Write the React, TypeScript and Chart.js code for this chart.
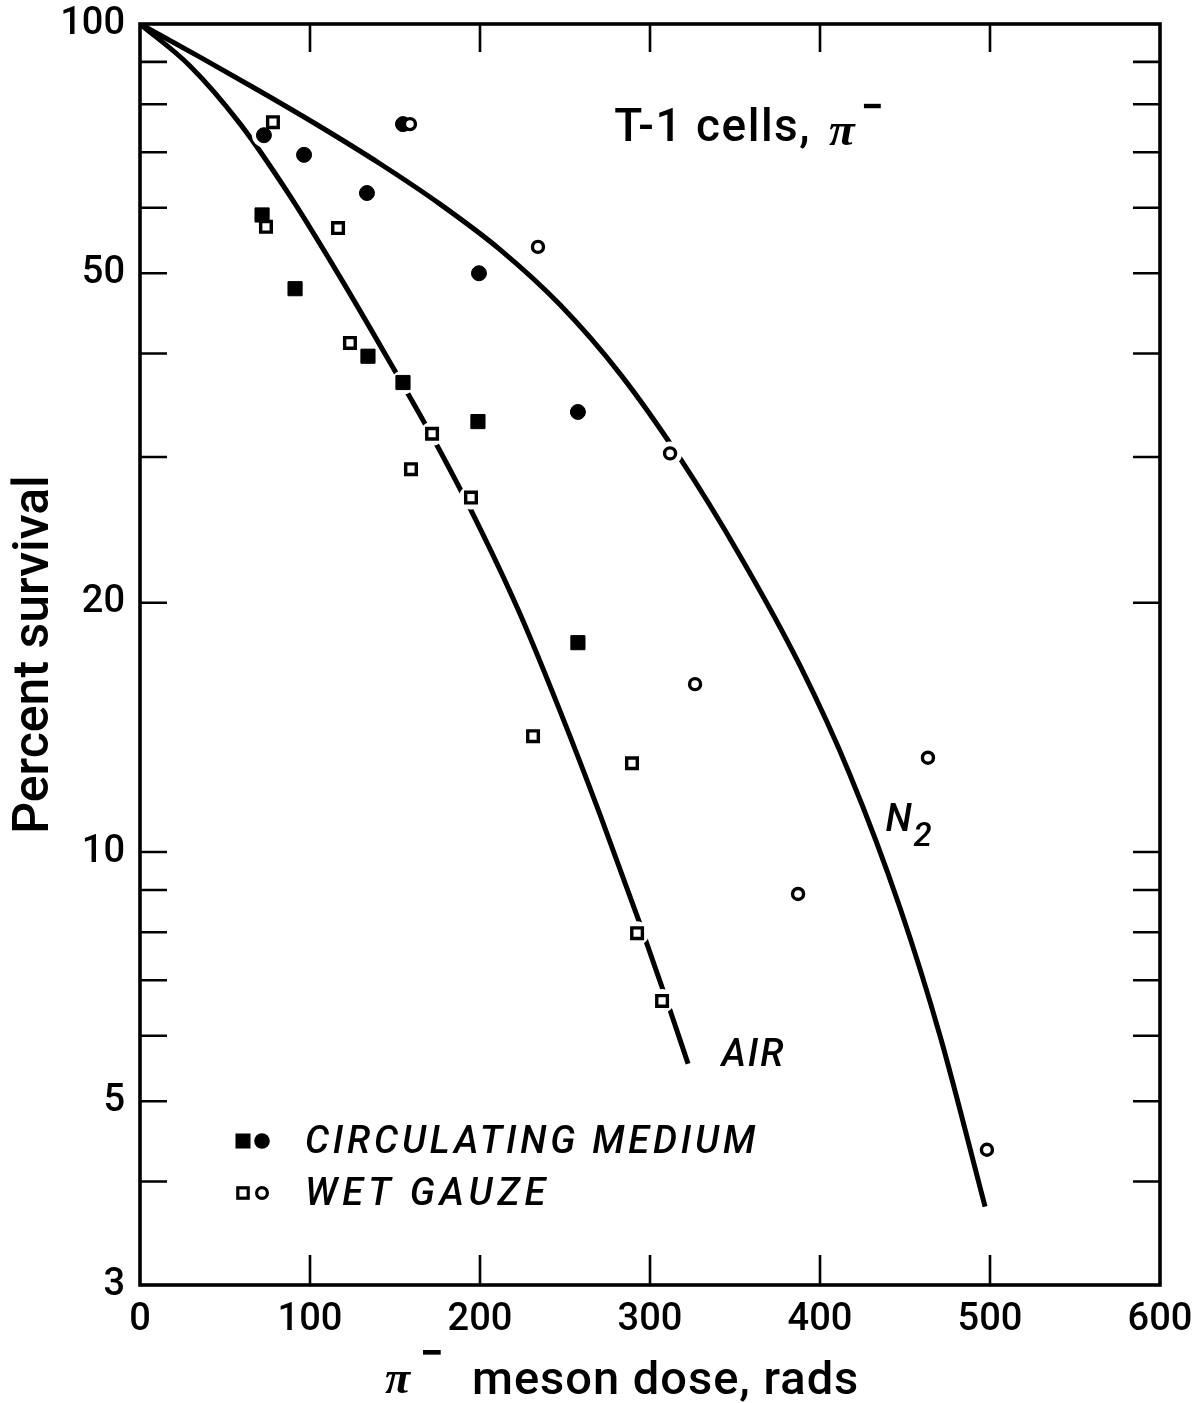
import React, { useEffect, useRef } from "react";
import { Chart, registerables } from "chart.js";

Chart.register(...registerables);

// ---- axes ----
const X_MIN = 0;
const X_MAX = 600;
const X_TICKS = [0, 100, 200, 300, 400, 500, 600];
const Y_MIN = 3;
const Y_MAX = 100;
const Y_LABEL_TICKS = [3, 5, 10, 20, 50, 100];
const Y_MINOR_TICKS = [4, 6, 7, 8, 9, 30, 40, 60, 70, 80, 90];

// ---- measured points (dose in rads, percent survival) ----
// circulating medium, N2 (filled circles)
const CIRC_N2_DOSE = [72.9, 96.5, 133.5, 154.7, 199.4, 257.6];
const CIRC_N2_SURV = [73.4, 69.5, 62.5, 75.7, 50.0, 34.0];
// wet gauze, N2 (open circles)
const GAUZE_N2_DOSE = [158.8, 234.1, 311.8, 326.5, 387.1, 463.5, 498.2];
const GAUZE_N2_SURV = [75.7, 53.8, 30.3, 15.95, 8.9, 13.0, 4.37];
// circulating medium, air (filled squares)
const CIRC_AIR_DOSE = [71.8, 91.2, 134.1, 154.7, 198.8, 257.6];
const CIRC_AIR_SURV = [58.8, 47.9, 39.7, 36.9, 33.1, 17.9];
// wet gauze, air (open squares)
const GAUZE_AIR_DOSE = [78.2, 74.1, 116.5, 123.5, 171.8, 159.4, 194.7, 231.2, 289.4, 292.4, 307.1];
const GAUZE_AIR_SURV = [76.1, 56.9, 56.7, 41.2, 32.0, 29.0, 26.8, 13.8, 12.8, 7.98, 6.61];

// ---- drawn survival curves ----
const AIR_CURVE_DOSE = [0, 29.4, 58.8, 88.2, 117.6, 147.1, 176.5, 200, 223.5, 247.1, 270.6, 294.1, 311.8, 322.4];
const AIR_CURVE_SURV = [100, 89.0, 75.8, 62.0, 49.5, 39.0, 30.5, 24.6, 19.4, 14.8, 11.1, 8.19, 6.44, 5.55];
const N2_CURVE_DOSE = [0, 35.3, 70.6, 105.9, 141.2, 176.5, 211.8, 247.1, 282.4, 317.6, 352.9, 388.2, 417.6, 447.1, 470.6, 497.1];
const N2_CURVE_SURV = [100, 91.2, 82.95, 75.2, 67.8, 60.6, 53.4, 45.8, 37.8, 29.9, 22.8, 16.8, 12.4, 8.56, 6.0, 3.73];

// ---- texts ----
const Y_TITLE = "Percent survival";
const X_TITLE_REST = "meson dose, rads";
const PI = "\u03c0";
const MINUS = "\u2212";
const PANEL_TITLE = "T-1 cells,";
const LEGEND_ROWS = ["CIRCULATING MEDIUM", "WET GAUZE"];
const AIR_LABEL = "AIR";
const N2_LABEL = "N";
const N2_SUB = "2";

// label anchors in data units (dose, survival)
const PANEL_TITLE_AT = [279, 74.5];
const AIR_LABEL_AT = [342, 5.66];
const N2_LABEL_AT = [438.5, 10.9];

const INK = "#000";
const SANS = "Roboto, 'Liberation Sans', Arial, sans-serif";
const SERIF = "'Liberation Serif', 'Times New Roman', serif";

const zip = (xs: number[], ys: number[]) => xs.map((x, i) => ({ x, y: ys[i] }));

const noPad = (s: any) => {
  s.paddingTop = 0;
  s.paddingBottom = 0;
  s.paddingLeft = 0;
  s.paddingRight = 0;
};

const decor = {
  id: "decor",
  afterDraw(chart: any) {
    const { ctx, chartArea: a, scales } = chart;
    const xs = scales.x;
    const ys = scales.y;
    ctx.save();
    ctx.strokeStyle = INK;
    ctx.fillStyle = INK;

    // inward tick marks on all four sides
    ctx.lineWidth = 2.6;
    ctx.beginPath();
    for (const v of [...Y_LABEL_TICKS, ...Y_MINOR_TICKS]) {
      if (v <= Y_MIN || v >= Y_MAX) continue;
      const py = ys.getPixelForValue(v);
      ctx.moveTo(a.left, py);
      ctx.lineTo(a.left + 27, py);
      ctx.moveTo(a.right, py);
      ctx.lineTo(a.right - 27, py);
    }
    for (const v of X_TICKS) {
      if (v <= X_MIN || v >= X_MAX) continue;
      const px = xs.getPixelForValue(v);
      ctx.moveTo(px, a.bottom);
      ctx.lineTo(px, a.bottom - 30);
      ctx.moveTo(px, a.top);
      ctx.lineTo(px, a.top + 28);
    }
    ctx.stroke();

    // frame
    ctx.lineWidth = 3.6;
    ctx.strokeRect(a.left, a.top, a.right - a.left, a.bottom - a.top);

    // x-axis title
    const baseY = a.bottom + 109;
    const piX = a.left + 245;
    ctx.textAlign = "left";
    ctx.textBaseline = "alphabetic";
    ctx.font = `italic bold 46px ${SERIF}`;
    ctx.fillText(PI, piX, baseY - 1);
    ctx.font = `bold 42px ${SANS}`;
    ctx.fillText(MINUS, piX + 35, baseY - 27);
    ctx.font = `500 47px ${SANS}`;
    (ctx as any).letterSpacing = "1px";
    ctx.fillText(X_TITLE_REST, a.left + 332, baseY);
    (ctx as any).letterSpacing = "0px";

    // panel title
    const tx = xs.getPixelForValue(PANEL_TITLE_AT[0]);
    const ty = ys.getPixelForValue(PANEL_TITLE_AT[1]);
    ctx.textBaseline = "middle";
    ctx.font = `500 46px ${SANS}`;
    (ctx as any).letterSpacing = "1.5px";
    ctx.fillText(PANEL_TITLE, tx, ty);
    const w = ctx.measureText(PANEL_TITLE).width;
    (ctx as any).letterSpacing = "0px";
    ctx.font = `italic bold 47px ${SERIF}`;
    ctx.fillText(PI, tx + w + 18, ty + 3);
    ctx.font = `bold 40px ${SANS}`;
    ctx.fillText(MINUS, tx + w + 50, ty - 20);

    // curve labels
    ctx.font = `italic 500 38px ${SANS}`;
    (ctx as any).letterSpacing = "2px";
    ctx.fillText(AIR_LABEL, xs.getPixelForValue(AIR_LABEL_AT[0]), ys.getPixelForValue(AIR_LABEL_AT[1]));
    const nx = xs.getPixelForValue(N2_LABEL_AT[0]);
    const ny = ys.getPixelForValue(N2_LABEL_AT[1]);
    ctx.fillText(N2_LABEL, nx, ny);
    const nw = ctx.measureText(N2_LABEL).width;
    ctx.font = `italic 500 33px ${SANS}`;
    ctx.fillText(N2_SUB, nx + nw, ny + 17);

    // legend
    const rowY = [a.bottom - 144, a.bottom - 92];
    const sqX = a.left + 103;
    const ciX = a.left + 122;
    ctx.fillRect(sqX - 7.5, rowY[0] - 7.5, 15, 15);
    ctx.beginPath();
    ctx.arc(ciX, rowY[0], 7.8, 0, Math.PI * 2);
    ctx.fill();
    ctx.lineWidth = 3.2;
    ctx.strokeRect(sqX - 5.2, rowY[1] - 5.2, 10.4, 10.4);
    ctx.beginPath();
    ctx.arc(ciX, rowY[1], 5.4, 0, Math.PI * 2);
    ctx.stroke();
    ctx.font = `italic 500 38px ${SANS}`;
    (ctx as any).letterSpacing = "3.8px";
    ctx.textBaseline = "middle";
    ctx.fillText(LEGEND_ROWS[0], a.left + 165, rowY[0] + 2);
    (ctx as any).letterSpacing = "4.8px";
    ctx.fillText(LEGEND_ROWS[1], a.left + 165, rowY[1] + 2);
    (ctx as any).letterSpacing = "0px";
    ctx.restore();
  },
};

export default function App() {
  const ref = useRef<HTMLCanvasElement>(null);

  useEffect(() => {
    const circN2 = zip(CIRC_N2_DOSE, CIRC_N2_SURV);
    const gauzeN2 = zip(GAUZE_N2_DOSE, GAUZE_N2_SURV);
    const circAir = zip(CIRC_AIR_DOSE, CIRC_AIR_SURV);
    const gauzeAir = zip(GAUZE_AIR_DOSE, GAUZE_AIR_SURV);
    const allPoints = [...circN2, ...gauzeN2, ...circAir, ...gauzeAir];

    const curve = (data: any[], label: string) => ({
      label,
      data,
      showLine: true,
      borderColor: INK,
      borderWidth: 5,
      pointRadius: 0,
      fill: false,
      cubicInterpolationMode: "monotone" as const,
      borderCapStyle: "butt" as const,
      order: 10,
    });

    const chart = new Chart(ref.current as HTMLCanvasElement, {
      type: "scatter",
      data: {
        datasets: [
          curve(zip(AIR_CURVE_DOSE, AIR_CURVE_SURV), "Air"),
          curve(zip(N2_CURVE_DOSE, N2_CURVE_SURV), "N2"),
          {
            label: "halo",
            data: allPoints,
            pointStyle: "circle",
            pointRadius: 12,
            backgroundColor: "#fff",
            borderWidth: 0,
            order: 5,
          },
          {
            label: "Circulating medium, air",
            data: circAir,
            pointStyle: "rect",
            pointRadius: 10,
            backgroundColor: INK,
            borderColor: INK,
            borderWidth: 1,
            order: 3,
          },
          {
            label: "Circulating medium, N2",
            data: circN2,
            pointStyle: "circle",
            pointRadius: 7.5,
            backgroundColor: INK,
            borderColor: INK,
            borderWidth: 1,
            order: 3,
          },
          {
            label: "Wet gauze, air",
            data: gauzeAir,
            pointStyle: "rect",
            pointRadius: 7.5,
            backgroundColor: "#fff",
            borderColor: INK,
            borderWidth: 3.4,
            order: 2,
          },
          {
            label: "Wet gauze, N2",
            data: gauzeN2,
            pointStyle: "circle",
            pointRadius: 5.5,
            backgroundColor: "#fff",
            borderColor: INK,
            borderWidth: 3.4,
            order: 1,
          },
        ],
      },
      options: {
        animation: false,
        responsive: false,
        devicePixelRatio: 1,
        events: [],
        layout: { autoPadding: false, padding: { left: 0, top: 24, right: 32, bottom: 0 } },
        plugins: { legend: { display: false }, tooltip: { enabled: false } },
        scales: {
          x: {
            type: "linear",
            min: X_MIN,
            max: X_MAX,
            grid: { display: false, drawTicks: false },
            border: { display: false },
            afterBuildTicks: (s: any) => {
              s.ticks = X_TICKS.map((v) => ({ value: v }));
            },
            afterFit: (s: any) => {
              s.height = 118;
              noPad(s);
            },
            ticks: {
              autoSkip: false,
              maxRotation: 0,
              padding: 13,
              color: INK,
              font: { family: SANS, size: 38, weight: "500" },
              callback: (v: any) => String(v),
            },
          },
          y: {
            type: "logarithmic",
            min: Y_MIN,
            max: Y_MAX,
            grid: { display: false, drawTicks: false },
            border: { display: false },
            afterBuildTicks: (s: any) => {
              s.ticks = Y_LABEL_TICKS.map((v) => ({ value: v }));
            },
            afterFit: (s: any) => {
              s.width = 140;
              noPad(s);
            },
            ticks: {
              autoSkip: false,
              padding: 15,
              color: INK,
              font: { family: SANS, size: 38, weight: "500" },
              callback: (v: any) => String(v),
            },
            title: {
              display: true,
              text: Y_TITLE,
              color: INK,
              font: { family: SANS, size: 50, weight: "500", lineHeight: 1 },
              padding: { top: 10, bottom: 0 },
            },
          },
        },
      },
      plugins: [decor],
    });
    return () => chart.destroy();
  }, []);

  return (
    <div style={{ position: "absolute", left: 0, top: 0, width: 1192, height: 1403, background: "#fff" }}>
      <canvas ref={ref} width={1192} height={1403} style={{ display: "block", width: 1192, height: 1403 }} />
    </div>
  );
}
